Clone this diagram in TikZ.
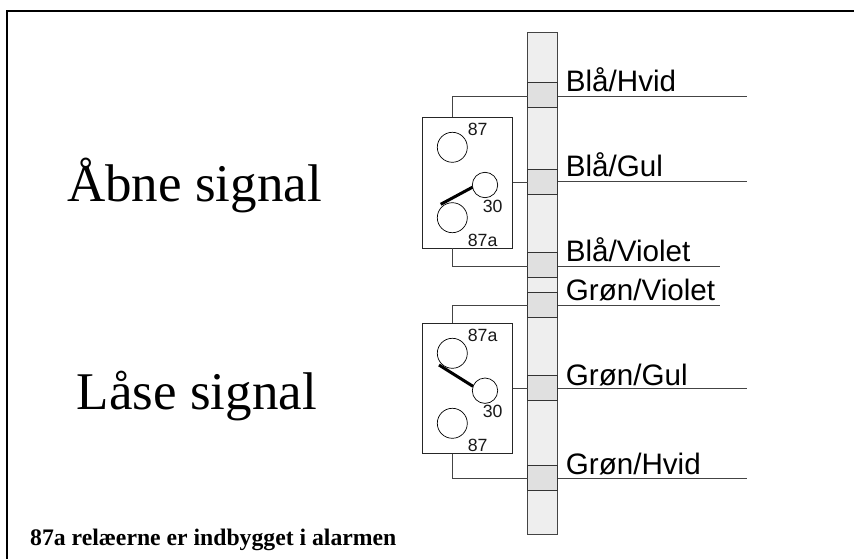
\documentclass[tikz,border=0pt]{standalone}
\usepackage{fontspec}
\setmainfont{Liberation Serif}
\newfontfamily\arialf{Liberation Sans}
\definecolor{stripfill}{HTML}{EEEEEE}
\definecolor{bandfill}{HTML}{E0E0E0}
\definecolor{wire}{HTML}{444444}
\tikzset{
  x=1pt,y=-1pt,
  stripbox/.style={draw=wire,line width=0.9pt,fill=stripfill,minimum width=30pt,minimum height=501.7pt,inner sep=0pt,outer sep=0pt},
  bandbox/.style={draw=black!80,line width=0.9pt,fill=bandfill,minimum width=30pt,minimum height=25pt,inner sep=0pt,outer sep=0pt},
  relaybox/.style={draw=black!85,line width=0.9pt,fill=white,minimum width=90.4pt,minimum height=130.7pt,inner sep=0pt,outer sep=0pt},
  contact/.style={circle,draw=black,line width=0.7pt,fill=white,minimum size=30pt,inner sep=0pt,outer sep=0pt},
  common/.style={circle,draw=black,line width=0.7pt,fill=white,minimum size=25.4pt,inner sep=0pt,outer sep=0pt},
  lever/.style={line width=3pt,black},
  wireline/.style={line width=0.9pt,draw=wire},
  framing/.style={line width=2pt,black},
  colourlabel/.style={anchor=base west,inner sep=0pt,font=\arialf\fontsize{29.6}{32}\selectfont,text=black},
  pinlabel/.style={anchor=base west,inner sep=0pt,font=\arialf\fontsize{17.7}{20}\selectfont,text=black!90},
  biglabel/.style={anchor=base west,inner sep=0pt,font=\fontsize{53}{56}\selectfont},
  notelabel/.style={anchor=base west,inner sep=0pt,font=\bfseries\fontsize{23.7}{26}\selectfont},
}
\begin{document}
\begin{tikzpicture}
\useasboundingbox (0,0) rectangle (854,559);
\fill[white] (0,0) rectangle (854,559);
% frame
\coordinate (fa) at (7,559);
\coordinate (fb) at (7,11);
\coordinate (fc) at (854,11);
\draw[framing] (fa) -- (fb) -- (fc);
% strip
\node[stripbox] (strip) at (542.7,283.2) {};
\node[bandbox] (b1) at (542.7,94.8) {};
\node[bandbox] (b2) at (542.7,181.8) {};
\node[bandbox] (b3) at (542.7,265.2) {};
\node[bandbox] (b4) at (542.7,304.8) {};
\node[bandbox] (b5) at (542.7,388.2) {};
\node[bandbox] (b6) at (542.7,478.2) {};
% right wire ends
\coordinate (w1) at (746.7,96);
\coordinate (w2) at (746.7,181.7);
\coordinate (w3) at (720,266);
\coordinate (w4) at (720,305);
\coordinate (w5) at (746.7,388.3);
\coordinate (w6) at (746.7,478.3);
\foreach \n in {1,...,6}{\draw[wireline] (b\n.east |- w\n) -- (w\n);}
% relays
\node[relaybox] (r1) at (467.5,182.65) {};
\node[relaybox] (r2) at (467.5,388.35) {};
\node[contact] (c1a) at (452.3,147.3) {};
\node[contact] (c1b) at (452.3,217.7) {};
\node[common] (c1c) at (485,185) {};
\node[contact] (c2a) at (452.3,353.3) {};
\node[contact] (c2b) at (452.3,423.3) {};
\node[common] (c2c) at (485,390.7) {};
\coordinate (l1) at (440.7,204.3);
\coordinate (l2) at (439,365);
\draw[lever] (l1) -- (c1c.190);
\draw[lever] (l2) -- (c2c.160);
% relay wiring
\coordinate (y1) at (0,96);
\coordinate (y3) at (0,266);
\coordinate (y4) at (0,305);
\coordinate (y6) at (0,478.3);
\draw[wireline] (b1.west |- y1) -| (c1a |- r1.north);
\draw[wireline] (b3.west |- y3) -| (c1b |- r1.south);
\draw[wireline] (b4.west |- y4) -| (c2a |- r2.north);
\draw[wireline] (b6.west |- y6) -| (c2b |- r2.south);
\draw[wireline] (r1.east) -- (b2.west |- r1.east);
\draw[wireline] (r2.east) -- (b5.west |- r2.east);
% pin labels
\node[pinlabel] (p1) at (467.7,135.7) {87};
\node[pinlabel] (p2) at (482.7,212.3) {30};
\node[pinlabel] (p3) at (467.7,246.7) {87a};
\node[pinlabel] (p4) at (467.7,341.7) {87a};
\node[pinlabel] (p5) at (482.7,417.3) {30};
\node[pinlabel] (p6) at (467.7,451.7) {87};
% colour labels
\node[colourlabel] (t1) at (565.7,91.7) {Blå/Hvid};
\node[colourlabel] (t2) at (565.7,176.7) {Blå/Gul};
\node[colourlabel] (t3) at (565.7,261.7) {Blå/Violet};
\node[colourlabel] (t4) at (565.7,300.7) {Grøn/Violet};
\node[colourlabel] (t5) at (565.7,385) {Grøn/Gul};
\node[colourlabel] (t6) at (565.7,474) {Grøn/Hvid};
% text
\node[biglabel] (s1) at (67,201.7) {Åbne signal};
\node[biglabel] (s2) at (76.7,409.3) {Låse signal};
\node[notelabel] (note) at (30,545) {87a relæerne er indbygget i alarmen};
\end{tikzpicture}
\end{document}
